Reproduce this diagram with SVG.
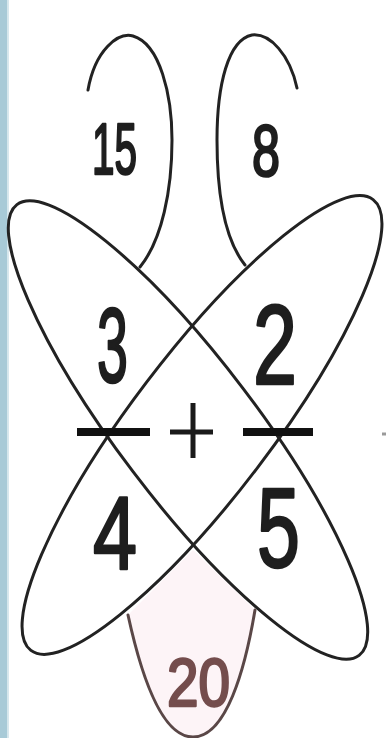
<svg xmlns="http://www.w3.org/2000/svg" width="386" height="738" viewBox="0 0 386 738">
<style>
.ln{fill:none;stroke:#222;stroke-width:3;stroke-linecap:round;stroke-linejoin:round}
.loop20{fill:none;stroke:#5a4747;stroke-width:3;stroke-linecap:round}
.num{font-family:"Liberation Sans",Arial,sans-serif;font-weight:normal;fill:#1e1e1e;stroke:#1e1e1e;stroke-width:2.6;stroke-linejoin:round}
.dash{stroke:#111;stroke-width:8}
.plus{stroke:#1a1a1a;stroke-width:5}
</style>
<rect width="386" height="738" fill="#ffffff"/>
<rect x="0" y="0" width="7.5" height="738" fill="#a8cad7"/>
<rect x="7.5" y="0" width="1.5" height="738" fill="#d8e8ee"/>
<path d="M128,615 C140,670 160,737 193,737 C226,737 245,670 255,610 L193,550 Z" fill="#fdf4f7"/>
<g id="connectors">
<ellipse class="ln" cx="188" cy="430" rx="283" ry="69" transform="rotate(52.8 188 430)"/>
<ellipse class="ln" cx="202" cy="425" rx="283" ry="70" transform="rotate(-52.8 202 425)"/>
<path class="ln" d="M88,90 C95,50 118,32 133,36 C160,44 172,95 172,140 C172,190 162,240 140,267"/>
<path class="ln" d="M297,88 C290,55 270,33 252,35 C228,40 217,85 217,140 C217,195 225,240 245,265"/>
<path class="loop20" d="M128,615 C140,670 160,737 193,737 C226,737 245,670 255,610"/>
</g>
<g id="marks">
<line class="dash" x1="77" y1="432" x2="150" y2="432"/>
<line class="dash" x1="243" y1="432" x2="313" y2="432"/>
<line class="plus" x1="170" y1="432" x2="213" y2="432"/>
<line class="plus" x1="193" y1="403" x2="193" y2="458"/>
<line x1="382" y1="434" x2="386" y2="434" stroke="#9a9a9a" stroke-width="3"/>
</g>
<g id="n15"><text class="num" x="92" y="174" font-size="72" textLength="45" lengthAdjust="spacingAndGlyphs">15</text></g>
<g id="n8"><text class="num" x="252" y="176" font-size="73" textLength="28" lengthAdjust="spacingAndGlyphs">8</text></g>
<g id="n3"><text class="num" x="97" y="382" font-size="106" textLength="31" lengthAdjust="spacingAndGlyphs">3</text></g>
<g id="n2"><text class="num" x="253" y="384" font-size="113" textLength="44" lengthAdjust="spacingAndGlyphs">2</text></g>
<g id="n4"><text class="num" x="93" y="569" font-size="103" textLength="44" lengthAdjust="spacingAndGlyphs">4</text></g>
<g id="n5"><text class="num" x="257" y="567" font-size="113" textLength="43" lengthAdjust="spacingAndGlyphs">5</text></g>
<g id="n20"><text class="num" x="167" y="706" font-size="68" textLength="63" lengthAdjust="spacingAndGlyphs" style="fill:#744d4d;stroke:#744d4d">20</text></g>
</svg>
